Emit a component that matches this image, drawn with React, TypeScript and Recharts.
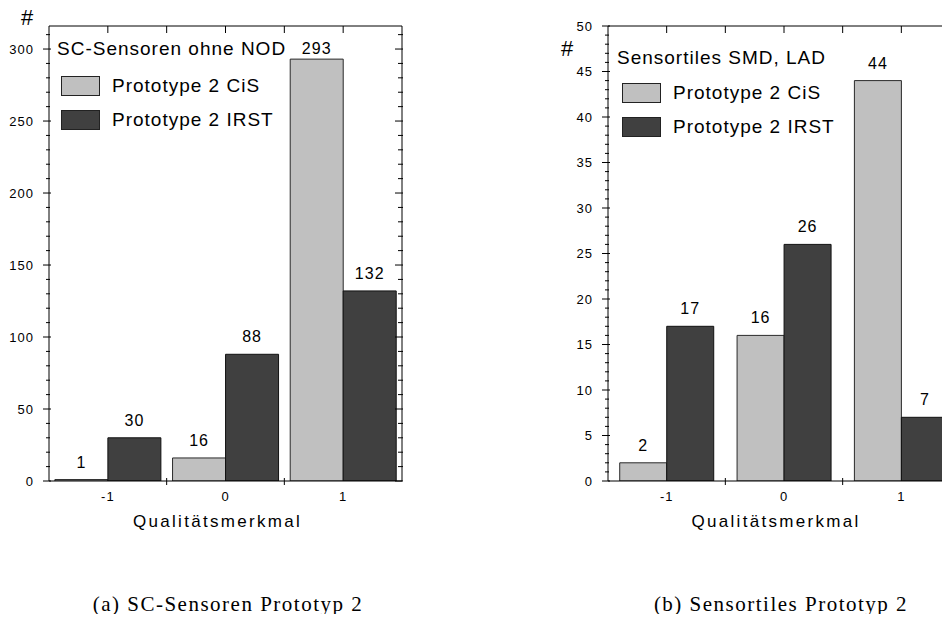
import { Bar, BarChart, Label, LabelList, Legend, XAxis, YAxis } from 'recharts';

// Qualitaetsmerkmal categories and counts per prototype
const categories = ['-1', '0', '1'];
const seriesNames = ['Prototype 2 CiS', 'Prototype 2 IRST'];
const seriesColors = ['#c0c0c0', '#404040'];

const scCis = [1, 16, 293];
const scIrst = [30, 88, 132];
const scMajorTicks = [0, 50, 100, 150, 200, 250, 300];

const tilesCis = [2, 16, 44];
const tilesIrst = [17, 26, 7];
const tilesMajorTicks = [0, 5, 10, 15, 20, 25, 30, 35, 40, 45, 50];

const FONT = '"Liberation Sans", Arial, sans-serif';
const CHART_H = 540;
const PLOT_TOP = 26;
const RIGHT_AXIS_W = 10;

type PanelProps = {
  cis: number[];
  irst: number[];
  title: string;
  yMax: number;
  majorTicks: number[];
  minorStep: number;
  yAxisWidth: number;
  width: number;
  left: number;
  gap: string;
  legendLeft: number;
  legendTop: number;
  legendFirstGap: number;
  legendIndent: number;
  hashX: number;
  hashY: number;
  labelShift: number;
};

function Panel(p: PanelProps) {
  const data = categories.map((c, i) => ({ cat: c, cis: p.cis[i], irst: p.irst[i] }));
  const plotW = p.width - p.yAxisWidth - RIGHT_AXIS_W;
  const band = plotW / categories.length;
  const last = categories.length - 1;

  const ticks: number[] = [];
  for (let v = 0; v <= p.yMax + 1e-6; v += p.minorStep) ticks.push(Math.round(v * 100) / 100);
  const isMajor = (v: number) => p.majorTicks.includes(v);

  const bottomTick = (t: any) => (
    <g>
      <text x={t.x} y={t.y + 20} textAnchor="middle" fontFamily={FONT} fontSize={13} letterSpacing={1} fill="#000">
        {t.payload.value}
      </text>
      {t.index < last && (
        <line x1={t.x + band / 2} x2={t.x + band / 2} y1={t.y - 3} y2={t.y + 4} stroke="#000" />
      )}
    </g>
  );

  const topTick = (t: any) => (
    <g>
      <line x1={t.x} x2={t.x} y1={t.y} y2={t.y + 7} stroke="#000" />
      {t.index < last && <line x1={t.x + band / 2} x2={t.x + band / 2} y1={t.y} y2={t.y + 7} stroke="#000" />}
    </g>
  );

  const leftTick = (t: any) => {
    const major = isMajor(t.payload.value);
    return (
      <g>
        <line x1={t.x - (major ? 6 : 3)} x2={t.x + (major ? 2 : 1)} y1={t.y} y2={t.y} stroke="#000" />
        {major && (
          <text x={t.x - 15} y={t.y} dy="0.35em" textAnchor="end" fontFamily={FONT} fontSize={13} letterSpacing={1} fill="#000">
            {t.payload.value}
          </text>
        )}
      </g>
    );
  };

  const rightTick = (t: any) => {
    const major = isMajor(t.payload.value);
    return <line x1={t.x - (major ? 7 : 4)} x2={t.x + 1} y1={t.y} y2={t.y} stroke="#000" />;
  };

  // labels sit above the bar, but never closer than 28px to the frame top
  const valueLabel = (l: any) => {
    const vb = l.viewBox ?? l;
    const y = Math.max(Number(vb.y) - 12, PLOT_TOP + 28);
    return (
      <text x={Number(vb.x) + Number(vb.width) / 2} y={y} textAnchor="middle" fontFamily={FONT} fontSize={16} letterSpacing={1} fill="#000">
        {l.value}
      </text>
    );
  };

  const legendContent = (props: any) => (
    <div style={{ fontFamily: FONT, fontSize: 19, letterSpacing: 1, lineHeight: '20px', color: '#000', whiteSpace: 'nowrap' }}>
      <div>{p.title}</div>
      {(props.payload ?? []).map((e: any, i: number) => (
        <div key={i} style={{ display: 'flex', alignItems: 'center', marginTop: i === 0 ? p.legendFirstGap : 14, marginLeft: p.legendIndent }}>
          <span style={{ display: 'inline-block', width: 39, height: 20, boxSizing: 'border-box', background: e.color, border: '1.5px solid #222' }} />
          <span style={{ marginLeft: 12 }}>{e.value}</span>
        </div>
      ))}
    </div>
  );

  return (
    <div style={{ position: 'absolute', left: p.left, top: 0 }}>
      <BarChart
        width={p.width}
        height={CHART_H}
        data={data}
        margin={{ top: PLOT_TOP - 10, right: 0, bottom: 9, left: 0 }}
        barGap={0}
        barCategoryGap={p.gap}
      >
        <XAxis dataKey="cat" height={50} tickSize={0} tickMargin={0} interval={0} tickLine={false} axisLine={{ stroke: '#000' }} tick={bottomTick}>
          <Label
            content={(l: any) => (
              <text
                x={l.viewBox.x + l.viewBox.width / 2 + p.labelShift}
                y={l.viewBox.y + 46}
                textAnchor="middle"
                fontFamily={FONT}
                fontSize={17}
                letterSpacing={2.3}
                fill="#000"
              >
                Qualitätsmerkmal
              </text>
            )}
          />
        </XAxis>
        <XAxis xAxisId="top" orientation="top" dataKey="cat" height={10} tickSize={0} tickMargin={0} interval={0} tickLine={false} axisLine={{ stroke: '#000' }} tick={topTick} />
        <YAxis
          type="number"
          domain={[0, p.yMax]}
          allowDataOverflow
          ticks={ticks}
          interval={0}
          width={p.yAxisWidth}
          tickSize={0}
          tickMargin={0}
          tickLine={false}
          axisLine={{ stroke: '#000' }}
          tick={leftTick}
        >
          <Label
            content={(l: any) => (
              <text x={l.viewBox.x + p.hashX} y={l.viewBox.y + p.hashY} textAnchor="middle" fontFamily={FONT} fontSize={22} fill="#000">
                #
              </text>
            )}
          />
        </YAxis>
        <YAxis
          yAxisId="r"
          orientation="right"
          type="number"
          domain={[0, p.yMax]}
          allowDataOverflow
          ticks={ticks}
          interval={0}
          width={RIGHT_AXIS_W}
          tickSize={0}
          tickMargin={0}
          tickLine={false}
          axisLine={{ stroke: '#000' }}
          tick={rightTick}
        />
        <Legend
          layout="vertical"
          align="center"
          verticalAlign="middle"
          wrapperStyle={{ left: p.legendLeft, top: p.legendTop, width: 'auto' }}
          content={legendContent}
        />
        <Bar dataKey="cis" name={seriesNames[0]} fill={seriesColors[0]} stroke="#2a2a2a" strokeWidth={1} isAnimationActive={false}>
          <LabelList dataKey="cis" content={valueLabel} />
        </Bar>
        <Bar dataKey="irst" name={seriesNames[1]} fill={seriesColors[1]} stroke="#111" strokeWidth={1} isAnimationActive={false}>
          <LabelList dataKey="irst" content={valueLabel} />
        </Bar>
      </BarChart>
    </div>
  );
}

const captionStyle = (center: number): React.CSSProperties => ({
  position: 'absolute',
  left: center - 200,
  width: 400,
  top: 594,
  textAlign: 'center',
  fontFamily: '"Liberation Serif", "Times New Roman", serif',
  fontSize: 21,
  letterSpacing: 1.5,
  lineHeight: 1,
  color: '#000',
});

export default function App() {
  return (
    <div style={{ position: 'relative', width: 950, height: 622, margin: -8, overflow: 'hidden', background: '#fff' }}>
      <Panel
        cis={scCis}
        irst={scIrst}
        title="SC-Sensoren ohne NOD"
        yMax={316}
        majorTicks={scMajorTicks}
        minorStep={10}
        yAxisWidth={49}
        width={412}
        left={0}
        gap="5%"
        legendLeft={57}
        legendTop={39}
        legendFirstGap={17}
        legendIndent={4}
        hashX={27}
        hashY={-1}
        labelShift={-8}
      />
      <Panel
        cis={tilesCis}
        irst={tilesIrst}
        title="Sensortiles SMD, LAD"
        yMax={50}
        majorTicks={tilesMajorTicks}
        minorStep={1}
        yAxisWidth={68}
        width={430}
        left={540}
        gap="10%"
        legendLeft={77}
        legendTop={48}
        legendFirstGap={15}
        legendIndent={5}
        hashX={27}
        hashY={30}
        labelShift={-8}
      />
      <div style={captionStyle(228)}>(a) SC-Sensoren Prototyp 2</div>
      <div style={captionStyle(781)}>(b) Sensortiles Prototyp 2</div>
    </div>
  );
}
